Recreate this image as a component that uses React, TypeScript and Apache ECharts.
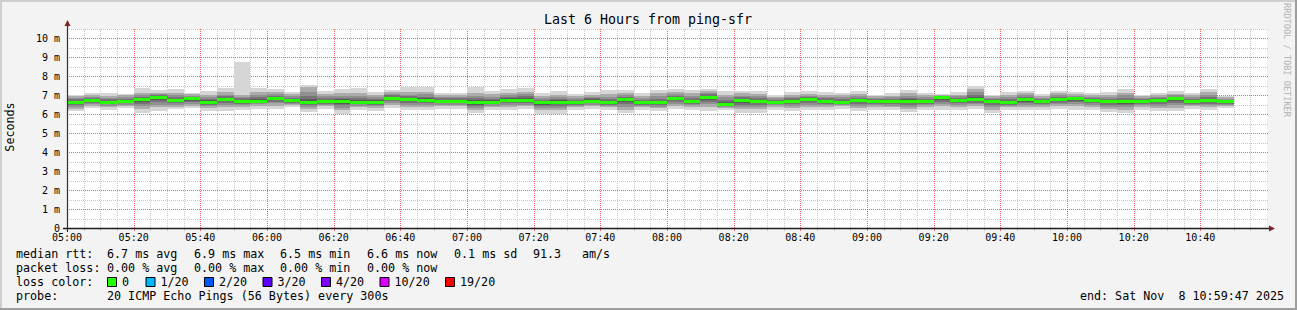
import React, { useEffect, useRef } from "react";
import * as echarts from "echarts";

// ---------- data ----------
const TITLE = "Last 6 Hours from ping-sfr";
const START_HOUR = 5;
const STEP_MIN = 5;
const RANGE_MIN = 360;
const Y_MAX = 10.5;
const X_MAJOR = 20; // minutes between labelled grid lines
const Y_MINOR = 0.5; // ms between minor grid lines

// median rtt per 5-minute step (ms), 05:00 .. 10:50
const medianRtt = [
  6.63, 6.74, 6.63, 6.67, 6.77, 6.88, 6.74, 6.81, 6.63, 6.79,
  6.68, 6.70, 6.84, 6.72, 6.60, 6.65, 6.67, 6.63, 6.63, 6.84,
  6.77, 6.74, 6.70, 6.70, 6.60, 6.63, 6.74, 6.74, 6.60, 6.63,
  6.60, 6.70, 6.60, 6.77, 6.60, 6.60, 6.83, 6.65, 6.91, 6.53,
  6.72, 6.68, 6.63, 6.70, 6.77, 6.68, 6.63, 6.74, 6.70, 6.68,
  6.68, 6.68, 6.86, 6.74, 6.77, 6.68, 6.60, 6.77, 6.65, 6.77,
  6.81, 6.74, 6.67, 6.65, 6.68, 6.74, 6.81, 6.68, 6.72, 6.65,
];
// slowest ping per step (ms)
const maxRtt = [
  7.04, 7.14, 7.14, 7.07, 7.37, 7.26, 7.32, 7.14, 7.21, 7.37,
  8.77, 7.37, 7.32, 7.20, 7.57, 7.21, 7.32, 7.39, 7.16, 7.30,
  7.44, 7.44, 7.13, 7.13, 7.44, 7.21, 7.34, 7.39, 7.13, 7.21,
  7.09, 7.16, 7.26, 7.30, 7.13, 7.30, 7.34, 7.30, 7.34, 7.21,
  7.25, 7.25, 7.04, 7.16, 7.21, 7.16, 7.13, 7.21, 7.04, 7.13,
  7.30, 7.13, 7.09, 7.16, 7.51, 7.04, 7.16, 7.25, 7.09, 7.25,
  7.16, 7.13, 7.16, 7.34, 7.04, 7.13, 7.21, 7.13, 7.35, 6.98,
];
// upper edge of the dense smoke (ms)
const upperRtt = [
  6.98, 7.02, 6.98, 7.00, 7.12, 7.14, 7.10, 7.05, 7.02, 7.15,
  7.04, 7.15, 7.16, 7.06, 7.42, 7.08, 7.12, 7.14, 7.02, 7.18,
  7.16, 7.18, 7.02, 7.00, 7.12, 7.06, 7.14, 7.20, 6.98, 7.04,
  6.98, 7.04, 7.08, 7.14, 6.98, 7.10, 7.16, 7.12, 7.22, 7.04,
  7.10, 7.08, 6.92, 7.02, 7.08, 7.04, 7.00, 7.06, 6.94, 6.98,
  7.10, 7.00, 7.02, 7.04, 7.36, 6.94, 7.02, 7.10, 6.98, 7.10,
  7.06, 7.00, 7.02, 7.14, 6.94, 7.00, 7.08, 7.00, 7.16, 6.90,
];
// lower edge of the dense smoke (ms)
const lowerRtt = [
  6.30, 6.45, 6.38, 6.45, 6.28, 6.36, 6.40, 6.45, 6.32, 6.36,
  6.38, 6.44, 6.46, 6.50, 6.30, 6.44, 6.22, 6.38, 6.32, 6.48,
  6.40, 6.40, 6.42, 6.42, 6.25, 6.38, 6.40, 6.42, 6.22, 6.24,
  6.36, 6.42, 6.36, 6.25, 6.36, 6.32, 6.45, 6.40, 6.36, 6.34,
  6.26, 6.26, 6.40, 6.32, 6.40, 6.40, 6.42, 6.32, 6.40, 6.36,
  6.28, 6.40, 6.42, 6.40, 6.44, 6.25, 6.38, 6.38, 6.40, 6.44,
  6.42, 6.38, 6.28, 6.25, 6.40, 6.32, 6.34, 6.42, 6.38, 6.45,
];
// fastest ping per step (ms)
const minRtt = [
  6.15, 6.33, 6.24, 6.33, 6.08, 6.19, 6.26, 6.33, 6.15, 6.19,
  6.24, 6.30, 6.30, 6.37, 6.12, 6.30, 6.02, 6.24, 6.15, 6.33,
  6.24, 6.24, 6.28, 6.28, 6.07, 6.21, 6.24, 6.28, 6.03, 6.03,
  6.21, 6.28, 6.21, 6.07, 6.21, 6.15, 6.28, 6.24, 6.15, 6.21,
  6.07, 6.07, 6.24, 6.15, 6.24, 6.24, 6.28, 6.15, 6.24, 6.21,
  6.10, 6.24, 6.24, 6.24, 6.28, 6.07, 6.24, 6.21, 6.24, 6.28,
  6.24, 6.21, 6.10, 6.07, 6.24, 6.15, 6.15, 6.28, 6.21, 6.33,
];

const rttStats = ["6.7 ms avg", "6.9 ms max", "6.5 ms min", "6.6 ms now", "0.1 ms sd", "91.3", "am/s"];
const lossStats = ["0.00 % avg", "0.00 % max", "0.00 % min", "0.00 % now"];
const lossLabels = ["0", "1/20", "2/20", "3/20", "4/20", "10/20", "19/20"];
const lossColors = ["#26ff00", "#00b8ff", "#0059ff", "#5e00ff", "#7e00ff", "#dd00ff", "#ff0000"];
const probeText = "20 ICMP Echo Pings (56 Bytes) every 300s";
const endText = "end: Sat Nov  8 10:59:47 2025";

// ---------- style ----------
const MONO = '"DejaVu Sans Mono", "Liberation Mono", monospace';
const GRID = "#c8c8c8";
const MGRID = "#f06464";
const OUTER_SMOKE = "#d6d6d6";
const CORE = [
  { k: 1.0, c: "#ababab" },
  { k: 0.7, c: "#909090" },
  { k: 0.45, c: "#747474" },
  { k: 0.25, c: "#5a5a5a" },
  { k: 0.1, c: "#404040" },
];

const rttX = [107, 194, 280, 367, 454, 533, 582];
const lossX = [107, 194, 280, 367];
const boxX = [107.5, 146, 204.5, 263, 321.5, 380, 445.5];
const LINE_Y = [254, 268, 282, 296];

function fmtTime(v: number): string {
  const m = Math.round(v);
  const h = START_HOUR + Math.floor(m / 60);
  const mm = m % 60;
  return (h < 10 ? "0" : "") + h + ":" + (mm < 10 ? "0" : "") + mm;
}

export default function App() {
  const ref = useRef<HTMLDivElement>(null);

  useEffect(() => {
    if (!ref.current) return;
    const chart = echarts.init(ref.current, undefined, { renderer: "svg" });

    const data = medianRtt.map((m, i) => [i * STEP_MIN, minRtt[i], lowerRtt[i], upperRtt[i], maxRtt[i], m]);

    // grid line positions: [value, orientation(0 = vertical, 1 = horizontal), major?]
    const gridData: number[][] = [];
    for (let t = STEP_MIN; t < RANGE_MIN; t += STEP_MIN) gridData.push([t, 0, t % X_MAJOR === 0 ? 1 : 0]);
    for (let k = 1; k * Y_MINOR <= Y_MAX + 1e-9; k++) gridData.push([k * Y_MINOR, 1, k % 2 === 0 ? 1 : 0]);

    const renderGrid = (params: any, api: any) => {
      const row = gridData[params.dataIndex];
      const v = row[0];
      const horiz = row[1] === 1;
      const major = row[2] === 1;
      const stroke = major ? MGRID : GRID;
      const children: any[] = [];
      if (horiz) {
        const y = Math.round(api.coord([0, v])[1]) + 0.5;
        const xa = api.coord([0, 0])[0];
        const xb = api.coord([RANGE_MIN, 0])[0] + 1;
        children.push({
          type: "line",
          shape: { x1: xa, y1: y, x2: xb, y2: y },
          style: { stroke, fill: null, lineWidth: 1, lineDash: [1, 1] },
        });
      } else {
        const x = Math.round(api.coord([v, 0])[0]) + 0.5;
        const yb = api.coord([0, 0])[1];
        const yt = api.coord([0, Y_MAX])[1];
        children.push({
          type: "line",
          shape: { x1: x, y1: yb, x2: x, y2: yt },
          style: { stroke, fill: null, lineWidth: 1, lineDash: [1, 1] },
        });
        children.push({
          type: "line",
          shape: { x1: x, y1: yb + 1, x2: x, y2: yb + 3 },
          style: { stroke, fill: null, lineWidth: 1 },
        });
      }
      return { type: "group", children };
    };

    const renderItem = (params: any, api: any) => {
      const t = api.value(0);
      const mn = api.value(1);
      const lo = api.value(2);
      const hi = api.value(3);
      const mx = api.value(4);
      const med = api.value(5);
      const x0 = Math.round(api.coord([t, med])[0]);
      const x1 = Math.round(api.coord([t + STEP_MIN, med])[0]);
      const yOf = (v: number) => Math.round(api.coord([t, v])[1]);
      const rect = (top: number, bot: number, fill: string) => {
        const yT = yOf(top);
        const yB = yOf(bot);
        return {
          type: "rect",
          shape: { x: x0, y: yT, width: x1 - x0, height: Math.max(1, yB - yT) },
          style: { fill },
        };
      };
      const children: any[] = [rect(mx, mn, OUTER_SMOKE)];
      CORE.forEach((layer) => {
        children.push(rect(med + (hi - med) * layer.k, med - (med - lo) * layer.k, layer.c));
      });
      const ym = api.coord([t, med])[1];
      children.push({
        type: "rect",
        shape: { x: x0, y: Math.round(ym - 1.5), width: x1 - x0, height: 3 },
        style: { fill: lossColors[0] },
      });
      return { type: "group", children };
    };

    const legendFont = "11.7px " + MONO;
    const txt = (x: number, y: number, text: string, extra: any = {}) => ({
      type: "text",
      x,
      y,
      z: 100,
      style: { text, font: legendFont, fill: "#000", align: "left", verticalAlign: "middle", ...extra },
    });

    const graphic: any[] = [
      // frame shades
      { type: "rect", z: 100, shape: { x: 0, y: 0, width: 1297, height: 2 }, style: { fill: "#cfcfcf" } },
      { type: "rect", z: 100, shape: { x: 0, y: 0, width: 2, height: 310 }, style: { fill: "#cfcfcf" } },
      { type: "rect", z: 100, shape: { x: 0, y: 308, width: 1297, height: 2 }, style: { fill: "#9e9e9e" } },
      { type: "rect", z: 100, shape: { x: 1295, y: 0, width: 2, height: 310 }, style: { fill: "#9e9e9e" } },
      // title
      {
        type: "text", x: 648, y: 19, z: 100,
        style: { text: TITLE, font: "13.3px " + MONO, fill: "#000", align: "center", verticalAlign: "middle" },
      },
      // y axis name
      {
        type: "text", x: 10, y: 127, z: 100, rotation: Math.PI / 2,
        style: { text: "Seconds", font: legendFont, fill: "#000", align: "center", verticalAlign: "middle" },
      },
      // watermark
      {
        type: "text", x: 1287, y: 60, z: 100, rotation: -Math.PI / 2,
        style: { text: "RRDTOOL / TOBI OETIKER", font: "8.6px " + MONO, fill: "#b4b4b4", align: "center", verticalAlign: "middle" },
      },
      // axes
      { type: "line", z: 100, shape: { x1: 63, y1: 228.5, x2: 1271, y2: 228.5 }, style: { stroke: "#1f1f1f", lineWidth: 1.3 } },
      { type: "polygon", z: 101, shape: { points: [[1269, 225.5], [1275, 228.5], [1269, 231.5]] }, style: { fill: "#801f1f" } },
      { type: "line", z: 100, shape: { x1: 67.5, y1: 232, x2: 67.5, y2: 25 }, style: { stroke: "#4a2424", lineWidth: 1.2 } },
      { type: "polygon", z: 101, shape: { points: [[64.5, 26], [67.5, 20], [70.5, 26]] }, style: { fill: "#801f1f" } },
      // legend lines
      txt(16, LINE_Y[0], "median rtt:"),
      ...rttStats.map((s, i) => txt(rttX[i], LINE_Y[0], s)),
      txt(16, LINE_Y[1], "packet loss:"),
      ...lossStats.map((s, i) => txt(lossX[i], LINE_Y[1], s)),
      txt(16, LINE_Y[2], "loss color:"),
      ...lossLabels.map((s, i) => txt(boxX[i] + 14.5, LINE_Y[2], s)),
      ...lossColors.map((c, i) => ({
        type: "rect", z: 100,
        shape: { x: boxX[i], y: LINE_Y[2] - 4.5, width: 9, height: 9 },
        style: { fill: c, stroke: "#000", lineWidth: 1 },
      })),
      txt(16, LINE_Y[3], "probe:"),
      txt(107, LINE_Y[3], probeText),
      txt(1284, LINE_Y[3], endText, { align: "right" }),
    ];

    const option: any = {
      animation: false,
      backgroundColor: "#f3f3f3",
      textStyle: { fontFamily: MONO },
      grid: {
        left: 67, top: 29, width: 1200, height: 199,
        show: true, backgroundColor: "#ffffff", borderWidth: 0, containLabel: false,
      },
      xAxis: {
        type: "value", min: 0, max: RANGE_MIN, interval: X_MAJOR,
        axisLine: { show: false },
        axisTick: { show: false },
        splitLine: { show: false },
        axisLabel: {
          margin: 4,
          fontSize: 10,
          fontFamily: MONO,
          color: "#000",
          showMaxLabel: false,
          formatter: (v: number) => fmtTime(v),
        },
      },
      yAxis: {
        type: "value", min: 0, max: Y_MAX, interval: 1,
        axisLine: { show: false },
        axisTick: { show: false },
        splitLine: { show: false },
        axisLabel: {
          margin: 7,
          fontSize: 10,
          fontFamily: MONO,
          color: "#000",
          formatter: (v: number) => {
            if (Math.abs(v - Math.round(v)) > 1e-6) return "";
            return Math.round(v) === 0 ? "0" : Math.round(v) + " m";
          },
        },
      },
      series: [
        {
          type: "custom",
          name: "grid",
          renderItem: renderGrid,
          data: gridData,
          encode: { x: 0 },
          clip: false,
          silent: true,
          z: 1,
        },
        {
          type: "custom",
          name: "rtt",
          renderItem,
          data,
          encode: { x: 0, y: [1, 2, 3, 4, 5] },
          clip: true,
          z: 2,
        },
      ],
      graphic,
    };

    chart.setOption(option);
    return () => chart.dispose();
  }, []);

  return (
    <div
      ref={ref}
      style={{ position: "absolute", left: 0, top: 0, width: 1297, height: 310 }}
    />
  );
}
